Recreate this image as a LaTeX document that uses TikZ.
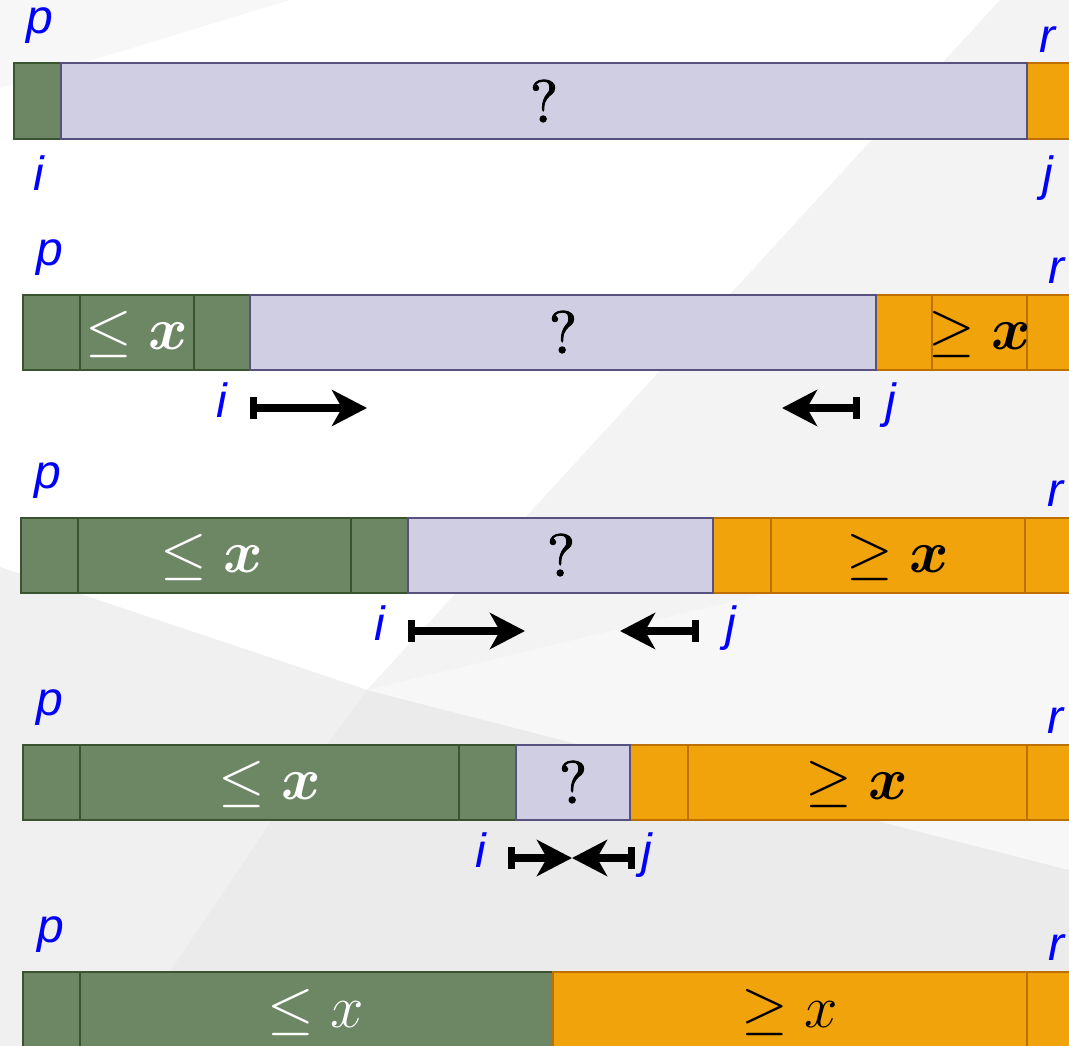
\RequirePackage{fix-cm}
\documentclass[tikz,border=0pt]{standalone}
\usepackage{amsmath}
\usepackage{fontspec}
\newfontfamily\labfont{Liberation Sans}
\newfontfamily\qfont{lmroman10-regular}[Extension=.otf,FakeBold=1.6]
\usetikzlibrary{arrows.meta}
\definecolor{gfill}{HTML}{6D8764}
\definecolor{gline}{HTML}{3A5431}
\definecolor{lfill}{HTML}{D0CEE2}
\definecolor{lline}{HTML}{56517E}
\definecolor{ofill}{HTML}{F0A30A}
\definecolor{oline}{HTML}{BD7000}
\definecolor{lblue}{HTML}{0000FF}
\definecolor{bgT}{HTML}{F7F7F7}
\definecolor{bgB}{HTML}{F3F3F3}
\definecolor{bgC}{HTML}{F0F0F0}
\definecolor{bgD}{HTML}{EBEBEB}
\definecolor{bgE}{HTML}{F7F7F7}
\begin{document}
\begin{tikzpicture}[x=1pt,y=-1pt,
  gcell/.style={fill=gfill,draw=gline,line width=2pt},
  lcell/.style={fill=lfill,draw=lline,line width=2pt},
  ocell/.style={fill=ofill,draw=oline,line width=2pt},
  lab/.style={text=lblue,font=\labfont\itshape\fontsize{48}{56}\selectfont,anchor=base,inner sep=0pt},
  qm/.style={font=\qfont\fontsize{60}{70}\selectfont,inner sep=0pt},
  le/.style={text=white,font=\fontsize{60}{70}\selectfont,inner sep=0pt},
  ge/.style={text=black,font=\fontsize{60}{70}\selectfont,inner sep=0pt},
  ptr/.style={line width=8pt,{Bar[width=22pt,line width=7pt]}-{Stealth[length=35pt,width=36pt,inset=10pt]}}]
\useasboundingbox (0,0) rectangle (1069,1046);
\clip (0,0) rectangle (1069,1046);
% background
\fill[white] (0,0) rectangle (1069,1046);
\fill[bgT] (0,0) -- (290,0) -- (0,88) -- cycle;
\fill[bgB] (1000,0) -- (1069,0) -- (1069,1046) -- (120,1046) -- (272,820) -- (367,690) -- cycle;
\fill[bgC] (0,567) -- (367,690) -- (272,820) -- (120,1046) -- (0,1046) -- cycle;
\fill[bgD] (367,690) -- (1069,870) -- (1069,1046) -- (120,1046) -- (272,820) -- cycle;
\fill[bgE] (367,690) -- (1069,520) -- (1069,870) -- cycle;

% ---------- row 1
\draw[gcell] (14,63) rectangle (61,139);
\draw[ocell] (1027,63) rectangle (1100,139);
\draw[lcell] (61,63) rectangle (1027,139);
\node[qm] (q1) at (544,101) {?};
\node[lab] (p1) at (40,34) {p};
\node[lab] (i1) at (39,191) {i};
\node[lab] (r1) at (1047,53) {r};
\node[lab] (j1) at (1048,191) {j};

% ---------- row 2
\draw[gcell] (23,295) rectangle (80,370);
\draw[gcell] (80,295) rectangle (194,370);
\draw[gcell] (194,295) rectangle (250,370);
\draw[ocell] (876,295) rectangle (932,370);
\draw[ocell] (932,295) rectangle (1027,370);
\draw[ocell] (1027,295) rectangle (1100,370);
\draw[lcell] (250,295) rectangle (876,370);
\node[qm] (q2) at (563,332) {?};
\node[le] (le2) at (137,334) {$\leq \boldsymbol{x}$};
\node[ge] (ge2) at (980,334) {$\geq \boldsymbol{x}$};
\node[lab] (p2) at (50,265) {p};
\node[lab] (r2) at (1056,283) {r};
\node[lab] (i2) at (222,417) {i};
\node[lab] (j2) at (891,417) {j};
\coordinate (i2s) at (250,408);
\coordinate (i2e) at (367,408);
\coordinate (j2s) at (860,408);
\coordinate (j2e) at (782,408);
\draw[ptr] (i2s) -- (i2e);
\draw[ptr] (j2s) -- (j2e);

% ---------- row 3
\draw[gcell] (21,518) rectangle (78,593);
\draw[gcell] (78,518) rectangle (351,593);
\draw[gcell] (351,518) rectangle (408,593);
\draw[ocell] (713,518) rectangle (771,593);
\draw[ocell] (771,518) rectangle (1025,593);
\draw[ocell] (1025,518) rectangle (1100,593);
\draw[lcell] (408,518) rectangle (713,593);
\node[qm] (q3) at (561,555) {?};
\node[le] (le3) at (212,557) {$\leq \boldsymbol{x}$};
\node[ge] (ge3) at (898,557) {$\geq \boldsymbol{x}$};
\node[lab] (p3) at (48,488) {p};
\node[lab] (r3) at (1055,506) {r};
\node[lab] (i3) at (380,640) {i};
\node[lab] (j3) at (731,640) {j};
\coordinate (i3s) at (408,631);
\coordinate (i3e) at (525,631);
\coordinate (j3s) at (699,631);
\coordinate (j3e) at (620,631);
\draw[ptr] (i3s) -- (i3e);
\draw[ptr] (j3s) -- (j3e);

% ---------- row 4
\draw[gcell] (23,745) rectangle (80,820);
\draw[gcell] (80,745) rectangle (459,820);
\draw[gcell] (459,745) rectangle (516,820);
\draw[ocell] (630,745) rectangle (688,820);
\draw[ocell] (688,745) rectangle (1027,820);
\draw[ocell] (1027,745) rectangle (1100,820);
\draw[lcell] (516,745) rectangle (630,820);
\node[qm] (q4) at (573,782) {?};
\node[le] (le4) at (270,784) {$\leq \boldsymbol{x}$};
\node[ge] (ge4) at (857,784) {$\geq \boldsymbol{x}$};
\node[lab] (p4) at (50,715) {p};
\node[lab] (r4) at (1055,733) {r};
\node[lab] (i4) at (481,867) {i};
\node[lab] (j4) at (647,867) {j};
\coordinate (i4s) at (508,858);
\coordinate (m4) at (572,858);
\coordinate (j4s) at (635,858);
\draw[ptr] (i4s) -- (m4);
\draw[ptr] (j4s) -- (m4);

% ---------- row 5
\draw[gcell] (23,972) rectangle (80,1047);
\draw[gcell] (80,972) rectangle (553,1047);
\draw[ocell] (553,972) rectangle (1027,1047);
\draw[ocell] (1027,972) rectangle (1100,1047);
\node[le] (le5) at (316,1012) {$\leq x$};
\node[ge] (ge5) at (790,1012) {$\geq x$};
\node[lab] (p5) at (51,942) {p};
\node[lab] (r5) at (1056,960) {r};
\end{tikzpicture}
\end{document}
